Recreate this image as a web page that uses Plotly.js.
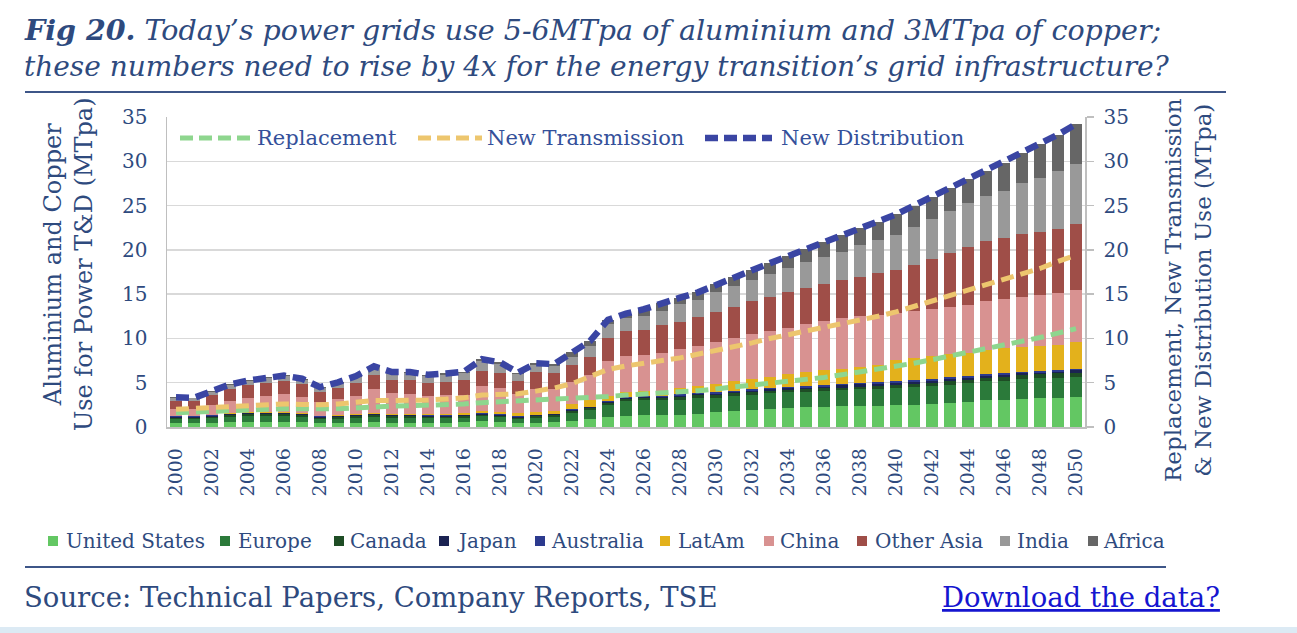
<!DOCTYPE html>
<html>
<head>
<meta charset="utf-8">
<script src="https://cdn.plot.ly/plotly-3.0.1.min.js"></script>
<style>
html,body{margin:0;padding:0;background:#fff;}
#chart{width:1297px;height:633px;}
</style>
</head>
<body>
<div id="chart"></div>
<script>
// ---------- DATA ----------
const years = [2000,2001,2002,2003,2004,2005,2006,2007,2008,2009,
  2010,2011,2012,2013,2014,2015,2016,2017,2018,2019,
  2020,2021,2022,2023,2024,2025,2026,2027,2028,2029,
  2030,2031,2032,2033,2034,2035,2036,2037,2038,2039,
  2040,2041,2042,2043,2044,2045,2046,2047,2048,2049,2050];

const unitedStates = [0.45,0.45,0.5,0.55,0.6,0.6,0.6,0.55,0.45,0.45,
  0.5,0.55,0.5,0.5,0.5,0.5,0.55,0.65,0.6,0.45,
  0.5,0.6,0.7,0.95,1.1,1.25,1.3,1.35,1.4,1.5,
  1.65,1.8,1.9,2.05,2.2,2.25,2.3,2.4,2.4,2.4,
  2.45,2.5,2.6,2.7,2.85,3.0,3.1,3.2,3.3,3.3,3.4];

const europe = [0.45,0.45,0.5,0.6,0.65,0.65,0.65,0.6,0.45,0.5,
  0.55,0.6,0.55,0.55,0.5,0.5,0.5,0.55,0.5,0.45,
  0.5,0.5,0.9,0.95,1.4,1.65,1.7,1.65,1.7,1.8,
  1.65,1.7,1.7,1.75,1.7,1.75,1.75,1.8,1.85,1.9,
  1.95,2.0,2.0,2.05,2.1,2.15,2.15,2.2,2.2,2.25,2.25];

const canada = [0.14,0.14,0.15,0.16,0.17,0.17,0.17,0.16,0.14,0.15,
  0.16,0.17,0.16,0.16,0.15,0.15,0.16,0.17,0.16,0.15,
  0.2,0.2,0.22,0.2,0.2,0.3,0.25,0.25,0.3,0.3,
  0.3,0.3,0.3,0.3,0.3,0.25,0.3,0.25,0.3,0.3,
  0.35,0.35,0.4,0.4,0.4,0.4,0.45,0.45,0.45,0.5,0.5];

const japan = [0.12,0.11,0.12,0.13,0.13,0.13,0.13,0.12,0.1,0.11,
  0.12,0.13,0.12,0.12,0.12,0.12,0.12,0.13,0.12,0.1,
  0.12,0.12,0.12,0.12,0.13,0.13,0.15,0.15,0.15,0.15,
  0.15,0.15,0.2,0.15,0.15,0.2,0.2,0.25,0.25,0.25,
  0.25,0.25,0.25,0.25,0.2,0.2,0.2,0.2,0.2,0.2,0.25];

const australia = [0.05,0.05,0.05,0.06,0.06,0.06,0.06,0.05,0.05,0.05,
  0.05,0.06,0.05,0.05,0.05,0.05,0.05,0.06,0.05,0.05,
  0.06,0.06,0.08,0.08,0.07,0.07,0.1,0.1,0.15,0.1,
  0.15,0.15,0.15,0.15,0.15,0.15,0.2,0.2,0.2,0.2,
  0.2,0.2,0.2,0.2,0.2,0.2,0.2,0.15,0.15,0.15,0.2];

const latAm = [0.08,0.08,0.08,0.08,0.08,0.08,0.08,0.08,0.1,0.1,
  0.1,0.1,0.1,0.1,0.12,0.15,0.18,0.2,0.25,0.35,
  0.35,0.3,0.55,0.7,0.6,0.6,0.6,0.6,0.7,0.75,
  0.9,1.1,1.15,1.3,1.5,1.65,1.65,1.7,1.8,2.0,
  2.4,2.45,2.6,2.6,2.65,2.8,2.8,2.85,2.85,2.9,2.95];

const china = [0.75,0.75,1.05,1.4,1.6,1.8,2.0,1.85,1.55,1.75,
  2.0,2.7,2.35,2.3,2.1,2.1,2.1,2.85,2.75,2.2,
  2.6,2.5,2.55,2.9,3.9,4.0,4.0,4.3,4.4,4.5,
  4.8,4.9,5.1,5.1,5.2,5.35,5.6,5.7,5.7,5.6,
  5.3,5.3,5.3,5.35,5.4,5.45,5.5,5.6,5.7,5.8,5.9];

const otherAsia = [0.95,0.95,1.15,1.3,1.4,1.5,1.55,1.45,1.15,1.35,
  1.5,1.6,1.45,1.5,1.45,1.55,1.6,1.7,1.65,1.45,
  1.85,1.85,1.9,2.0,2.6,2.8,2.8,3.1,3.1,3.3,
  3.4,3.4,3.7,3.9,4.0,4.1,4.2,4.3,4.4,4.7,
  4.8,5.25,5.65,6.05,6.5,6.8,6.9,7.1,7.15,7.3,7.45];

const india = [0.28,0.25,0.35,0.45,0.5,0.5,0.5,0.5,0.4,0.5,
  0.65,0.83,0.78,0.78,0.76,0.78,0.82,1.15,1.0,0.75,
  0.8,0.77,0.93,1.2,1.6,1.5,1.6,1.6,2.0,1.9,
  2.2,2.4,2.4,2.6,2.7,2.9,3.0,3.2,3.6,3.75,
  4.0,4.3,4.5,4.8,5.0,5.1,5.4,5.75,6.1,6.45,6.8];

const africa = [0.07,0.05,0.1,0.1,0.1,0.1,0.1,0.1,0.1,0.1,
  0.13,0.15,0.15,0.15,0.15,0.15,0.18,0.23,0.23,0.2,
  0.22,0.2,0.55,0.6,0.5,0.5,0.8,0.9,0.7,0.9,
  0.9,1.0,1.1,1.2,1.4,1.5,1.7,1.9,2.0,2.1,
  2.3,2.4,2.5,2.6,2.7,2.8,3.1,3.4,3.8,4.15,4.5];

const replacement = [1.6,1.7,1.8,1.9,2.0,2.0,2.05,2.05,2.0,2.05,
  2.15,2.3,2.35,2.4,2.45,2.5,2.6,2.75,2.85,2.9,
  2.95,3.05,3.15,3.3,3.45,3.6,3.7,3.8,3.95,4.1,
  4.3,4.5,4.7,4.9,5.1,5.35,5.6,5.9,6.2,6.5,
  6.8,7.2,7.6,8.0,8.4,8.8,9.2,9.7,10.1,10.6,11.1];

const newTransmission = [2.0,2.1,2.25,2.4,2.5,2.55,2.6,2.55,2.5,2.6,
  2.75,3.0,3.0,3.0,3.05,3.15,3.3,3.6,3.7,3.75,
  4.05,4.4,4.9,5.7,6.5,6.9,7.25,7.5,7.8,8.2,
  8.6,9.1,9.5,10.0,10.4,10.8,11.2,11.6,12.0,12.5,
  13.0,13.6,14.2,14.8,15.4,16.0,16.6,17.3,17.9,18.7,19.4];

const newDistribution = [3.35,3.3,4.05,4.8,5.25,5.55,5.8,5.45,4.5,5.05,
  5.75,6.85,6.2,6.2,5.9,6.05,6.25,7.65,7.3,6.15,
  7.2,7.1,8.5,9.7,12.1,12.8,13.3,14.0,14.6,15.2,
  16.1,16.9,17.7,18.5,19.3,20.1,20.9,21.7,22.5,23.2,
  24.0,25.0,26.0,27.0,28.0,28.9,29.8,30.9,31.9,33.0,34.2];

const xTickYears = [2000,2002,2004,2006,2008,2010,2012,2014,2016,2018,2020,2022,2024,
  2026,2028,2030,2032,2034,2036,2038,2040,2042,2044,2046,2048,2050];
const yTicks = [0,5,10,15,20,25,30,35];

const barNames = ['United States','Europe','Canada','Japan','Australia','LatAm','China','Other Asia','India','Africa'];
const barValues = [unitedStates, europe, canada, japan, australia, latAm, china, otherAsia, india, africa];
const lineNames = ['Replacement','New Transmission','New Distribution'];
const lineValues = [replacement, newTransmission, newDistribution];

// ---------- STYLE ----------
const FONT = 'DejaVu Serif, Georgia, serif';
const TXT = '#2E4A7E';
const barColors = ['#63C763','#2B7A3A','#1E4D25','#1B2352','#2C3A8E','#E3B11C','#D89291','#9F4E48','#999999','#666666'];
const lineColors = ['#8ED68E','#EDC66E','#3A45A3'];
const lineWidths = [5, 5, 6.5];
// legend layout (pixels): [square left, text left]
const barLegendPx = [[48,64],[220,236],[334,348],[439,455],[535,549],[660,676],[764,778],[857,873],[1000,1015],[1088,1101]];
// [swatch start, swatch end, text left]
const lineLegendPx = [[180,250,255],[418,482,485],[705,772,779]];

// pixel -> paper helpers (plot area: x 167..1085, y 117..427)
const L = 167, R = 1085, T = 117, B = 427;
const px = x => (x - L) / (R - L);
const py = y => (B - y) / (B - T);

const traces = [];
barNames.forEach((name, i) => {
  traces.push({type:'bar', name, x: years, y: barValues[i], marker:{color: barColors[i], line:{width:0}},
    showlegend:false, hoverinfo:'skip'});
});
lineNames.forEach((name, i) => {
  traces.push({type:'scatter', mode:'lines', name, x: years, y: lineValues[i], yaxis:'y2',
    line:{color: lineColors[i], width: lineWidths[i], dash:'13px,7px'}, showlegend:false, hoverinfo:'skip'});
});

const shapes = [
  {type:'line', xref:'paper', yref:'paper', x0: px(25), x1: px(1226), y0: py(92), y1: py(92),
    line:{color:'#3E5688', width:2}},
  {type:'line', xref:'paper', yref:'paper', x0: px(25), x1: px(1166), y0: py(567), y1: py(567),
    line:{color:'#3E5688', width:2}},
  {type:'rect', xref:'paper', yref:'paper', x0: px(0), x1: px(1297), y0: py(627), y1: py(634),
    line:{width:0}, fillcolor:'#DCEAF4'}
];
const annotations = [
  {xref:'paper', yref:'paper', x: px(22), y: py(30), xanchor:'left', yanchor:'middle', showarrow:false,
    text:'<i><b>Fig 20.</b> Today’s power grids use 5-6MTpa of aluminium and 3MTpa of copper;</i>',
    font:{size:28.5, color:TXT, family:FONT}},
  {xref:'paper', yref:'paper', x: px(22), y: py(66), xanchor:'left', yanchor:'middle', showarrow:false,
    text:'<i>these numbers need to rise by 4x for the energy transition’s grid infrastructure?</i>',
    font:{size:28, color:TXT, family:FONT}},
  {xref:'paper', yref:'paper', x: px(68), y: py(264), xanchor:'center', yanchor:'middle', showarrow:false,
    textangle:-90, text:'Aluminium and Copper<br>Use for Power T&amp;D (MTpa)',
    font:{size:24, color:TXT, family:FONT}},
  {xref:'paper', yref:'paper', x: px(1188), y: py(290), xanchor:'center', yanchor:'middle', showarrow:false,
    textangle:-90, text:'Replacement, New Transmission<br>&amp; New Distribution Use (MTpa)',
    font:{size:23, color:TXT, family:FONT}},
  {xref:'paper', yref:'paper', x: px(22), y: py(597), xanchor:'left', yanchor:'middle', showarrow:false,
    text:'Source: Technical Papers, Company Reports, TSE',
    font:{size:27.5, color:TXT, family:FONT}},
  {xref:'paper', yref:'paper', x: px(1222), y: py(597), xanchor:'right', yanchor:'middle', showarrow:false,
    text:'<u>Download the data?</u>',
    font:{size:27.5, color:'#1515D0', family:FONT}}
];

// bar legend (manual, bottom)
barNames.forEach((name, i) => {
  const [sq, tx] = barLegendPx[i];
  shapes.push({type:'rect', xref:'paper', yref:'paper', x0: px(sq), x1: px(sq + 10),
    y0: py(546), y1: py(536), line:{width:0}, fillcolor: barColors[i]});
  annotations.push({xref:'paper', yref:'paper', x: px(tx), y: py(541), xanchor:'left', yanchor:'middle',
    showarrow:false, text: name, font:{size:20, color:TXT, family:FONT}});
});
// line legend (manual, inside plot top)
lineNames.forEach((name, i) => {
  const [a, b, tx] = lineLegendPx[i];
  shapes.push({type:'line', xref:'paper', yref:'paper', x0: px(a), x1: px(b), y0: py(138), y1: py(138),
    line:{color: lineColors[i], width: lineWidths[i], dash:'13px,6px'}});
  annotations.push({xref:'paper', yref:'paper', x: px(tx), y: py(138), xanchor:'left', yanchor:'middle',
    showarrow:false, text: name, font:{size:21, color:'#34509A', family:FONT}});
});

const layout = {
  width: 1297, height: 633,
  margin: {l: L, r: 1297 - R, t: T, b: 633 - B, pad: 0},
  paper_bgcolor: '#ffffff', plot_bgcolor: '#ffffff',
  barmode: 'stack', bargap: 0.28,
  font: {family: FONT, color: TXT, size: 19},
  showlegend: false,
  xaxis: {
    range: [1999.5, 2050.5], tickmode: 'array', tickvals: xTickYears,
    tickangle: -90, tickfont: {size: 19, color: TXT, family: FONT},
    showline: true, linecolor: '#BFBFBF', linewidth: 1.5, ticks: '', showgrid: false,
    zeroline: false, ticklabelstandoff: 12
  },
  yaxis: {
    range: [0, 35], tickmode: 'array', tickvals: yTicks,
    gridcolor: '#D9D9D9', gridwidth: 1.5, showline: true, linecolor: '#BFBFBF', linewidth: 1.5,
    ticks: '', zeroline: false, tickfont: {size: 20, color: TXT, family: FONT},
    ticklabelstandoff: 14
  },
  yaxis2: {
    range: [0, 35], tickmode: 'array', tickvals: yTicks, overlaying: 'y', side: 'right',
    showgrid: false, showline: true, linecolor: '#BFBFBF', linewidth: 1.5,
    ticks: 'outside', ticklen: 7, tickcolor: '#BFBFBF', tickwidth: 1.5, zeroline: false,
    tickfont: {size: 20, color: TXT, family: FONT}, ticklabelstandoff: 6
  },
  shapes, annotations
};

Plotly.newPlot('chart', traces, layout, {displayModeBar:false, staticPlot:true});
</script>
</body>
</html>
